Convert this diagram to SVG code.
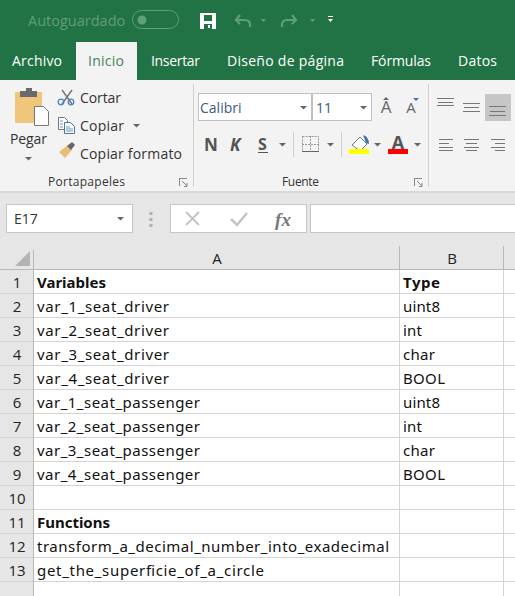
<svg xmlns="http://www.w3.org/2000/svg" width="515" height="596" viewBox="0 0 515 596">
<style>
text{font-family:"Open Sans","Noto Sans","Liberation Sans",sans-serif;fill:#333}
.tab{font-size:14px;fill:#fff}
.rb{font-size:14px;fill:#333}
.grp{font-size:12px;fill:#333}
.cell{font-family:"Noto Sans","Open Sans",sans-serif;font-size:15px;fill:#111}
.b{font-weight:700}
.hd{font-size:15px;fill:#222;text-anchor:middle}
.grid{stroke:#d4d4d4;stroke-width:1}
.hl{stroke:#b8b8b8;stroke-width:1}
.caret{fill:#666}
.ln{stroke:#777;stroke-width:1}
</style>
<defs>
<path id="c" class="caret" d="M0 0h7l-3.500 3.500z"/>
<path id="launch" fill="none" stroke="#888" d="M0 .5h8M.5 0v8M3 3l5 5M8 5v3.500H5"/>
</defs>
<rect width="515" height="596" fill="#fff"/>
<g id="titlebar">
<rect width="515" height="42" fill="#217346"/>
<text x="28" y="26" font-size="14.500" style="fill:#5f9d7c">Autoguardado</text>
<rect x="132.500" y="10.500" width="46" height="18" rx="9" fill="none" stroke="#5f9d7c"/>
<circle cx="142" cy="20" r="4.500" fill="#5f9d7c"/>
<path d="M200 13h16v16h-16z" fill="#fff"/>
<rect x="204" y="15" width="8" height="6" fill="#217346"/>
<rect x="204" y="24" width="8" height="5" fill="#217346"/>
<rect x="208" y="25" width="2" height="3" fill="#fff"/>
<path d="M240 15l-4 5 4 4M237 20h8q5 0 5 5v2" fill="none" stroke="#5f9d7c" stroke-width="2.200"/>
<path d="M292 15l4 5-4 4M295 20h-8q-5 0-5 5v2" fill="none" stroke="#5f9d7c" stroke-width="2.200"/>
<path d="M261 19h5l-2.500 3zM310 19h5l-2.500 3z" fill="#5f9d7c"/>
<path d="M328 16h5v1h-5zM328 19h5l-2.500 3z" fill="#fff"/>
</g>
<g id="tabs">
<rect y="42" width="515" height="38" fill="#217346"/>
<rect x="76" y="42" width="61" height="38" fill="#f3f3f3"/>
<text class="tab" x="12" y="66" textLength="50">Archivo</text>
<text class="tab" x="88" y="66" textLength="36" style="fill:#3f8560">Inicio</text>
<text class="tab" x="151" y="66" textLength="49">Insertar</text>
<text class="tab" x="227" y="66" textLength="117">Diseño de página</text>
<text class="tab" x="371" y="66" textLength="60">Fórmulas</text>
<text class="tab" x="458" y="66" textLength="39">Datos</text>
</g>
<g id="ribbon">
<rect y="80" width="515" height="111" fill="#f3f3f3"/>
<rect y="191" width="515" height="2" fill="#d8d8d8"/>
<path d="M193.500 84v103M428.500 84v103" stroke="#d0d0d0"/>
<rect x="15" y="92" width="27" height="31" fill="#efc67c"/>
<rect x="20" y="91" width="17" height="6" fill="#6a6a6a"/>
<rect x="26" y="88" width="6" height="5" fill="#6a6a6a"/>
<path d="M34.500 106.500h9l5 5v14h-14z" fill="#fff" stroke="#777"/>
<text class="rb" x="10" y="144" textLength="37">Pegar</text>
<use href="#c" x="25" y="157"/>
<path d="M62 90l10 14M72 90l-10 14" stroke="#777" stroke-width="1.500"/>
<circle cx="61" cy="102" r="2.800" fill="none" stroke="#4a86c5" stroke-width="1.300"/>
<circle cx="71" cy="102" r="2.800" fill="none" stroke="#4a86c5" stroke-width="1.300"/>
<text class="rb" x="80" y="103" textLength="41">Cortar</text>
<path d="M58.500 117.500h6l3 3v9h-9z" fill="#fff" stroke="#777"/>
<path d="M64.500 122.500h6l4 4v7h-10z" fill="#fff" stroke="#4a76a5"/>
<path d="M60 121h3M60 124h3M60 127h3M66 127h4M66 129h7M66 131h7" stroke="#4a76a5" stroke-width=".8"/>
<text class="rb" x="80" y="131" textLength="44">Copiar</text>
<use href="#c" x="133" y="124"/>
<path d="M59 152l9-7 4 5-7 8z" fill="#e8bd75"/>
<path d="M67 146l5-4 3 3-4 5z" fill="#666"/>
<text class="rb" x="80" y="159" textLength="102">Copiar formato</text>
<text class="grp" x="48" y="186" textLength="77">Portapapeles</text>
<use href="#launch" x="179" y="178"/>
<rect x="198.500" y="93.500" width="113" height="27" fill="#fff" stroke="#c0c0c0"/>
<rect x="312.500" y="93.500" width="59" height="27" fill="#fff" stroke="#c0c0c0"/>
<text x="200" y="113" font-size="14" style="fill:#3c5a80">Calibri</text>
<text x="316" y="113" font-size="14" style="fill:#3c5a80">11</text>
<use href="#c" x="300" y="106"/>
<use href="#c" x="360" y="106"/>
<text x="386" y="113" font-size="17" style="fill:#666;text-anchor:middle">A</text>
<text x="411" y="113" font-size="15" style="fill:#666;text-anchor:middle">A</text>
<path d="M383 100l3-3 3 3z" fill="#666"/>
<path d="M413 98h6l-3 3z" fill="#3f75b5"/>
<text x="204" y="151" font-size="17" class="b" style="fill:#555">N</text>
<text x="230" y="151" font-size="17" class="b" font-style="italic" style="fill:#555">K</text>
<text x="258" y="150" font-size="16" class="b" style="fill:#555">S</text>
<path d="M258 152.500h10" stroke="#555"/>
<use href="#c" x="279" y="143"/>
<path d="M293.500 132v25M341.500 132v25" stroke="#cfcfcf"/>
<rect x="302.500" y="136.500" width="16" height="15" fill="none" stroke="#999" stroke-dasharray="2 1"/>
<path d="M310.500 136v16M302 144.500h17" stroke="#999" stroke-dasharray="2 1"/>
<path d="M302 151.500h17" stroke="#666"/>
<use href="#c" x="327" y="143"/>
<path d="M352 145l8-8 7 7-7 7z" fill="#fff" stroke="#777"/>
<path d="M363 135q6 2 6 9l-3-1z" fill="#3f75b5"/>
<rect x="349" y="149" width="20" height="5" fill="#ffff00"/>
<use href="#c" x="374" y="143"/>
<text x="398" y="149" font-size="18" class="b" style="fill:#555;text-anchor:middle">A</text>
<rect x="388" y="149" width="20" height="5" fill="#ff0000"/>
<use href="#c" x="414" y="143"/>
<text class="grp" x="282" y="186" textLength="37">Fuente</text>
<use href="#launch" x="414" y="178"/>
<rect x="485" y="94" width="26" height="27" fill="#c6c6c6"/>
<path class="ln" d="M437 98.500h17M438 102.500h15M437 105.500h17"/>
<path class="ln" d="M463 103.500h17M464 107.500h15M463 111.500h17"/>
<path class="ln" d="M489 106.500h17M490 111.500h15M489 115.500h17"/>
<path class="ln" d="M439 139.500h14M439 143.500h10M439 147.500h14M439 150.500h14"/>
<path class="ln" d="M464 139.500h15M466 143.500h11M464 147.500h15M466 150.500h11"/>
<path class="ln" d="M491 139.500h14M495 143.500h10M491 147.500h14M495 150.500h10"/>
</g>
<g id="formulabar">
<rect y="193" width="515" height="53" fill="#e6e6e6"/>
<rect x="6.500" y="204.500" width="126" height="28" fill="#fff" stroke="#c6c6c6"/>
<text x="14" y="224" font-size="14" style="fill:#333">E17</text>
<use href="#c" x="117" y="217"/>
<path d="M151 212v3M151 218v3M151 224v3" stroke="#b0b0b0" stroke-width="3"/>
<rect x="170.500" y="204.500" width="136" height="28" fill="#fff" stroke="#c6c6c6"/>
<rect x="310.500" y="204.500" width="205" height="28" fill="#fff" stroke="#c6c6c6"/>
<path d="M186 212l13 13M199 212l-13 13" stroke="#c4c4c4" stroke-width="1.800"/>
<path d="M231 219l6 6 10-12" fill="none" stroke="#c4c4c4" stroke-width="2.500"/>
<text x="283" y="226" font-size="19" font-style="italic" class="b" style="font-family:'Liberation Serif',serif;fill:#777;text-anchor:middle">fx</text>
</g>
<g id="sheet">
<rect x="0" y="246" width="515" height="24" fill="#e6e6e6"/>
<rect x="0" y="270" width="33.500" height="326" fill="#e6e6e6"/>
<path d="M30 251v15h-15z" fill="#b4b4b4"/>
<path class="hl" d="M33.500 250v346M399.500 246v24M503.500 246v24M0 269.500h515"/>
<g class="grid">
<path d="M399.500 270v326M503.500 270v326"/>
<path d="M34 293.500h481M34 317.500h481M34 341.500h481M34 365.500h481M34 389.500h481M34 413.500h481M34 437.500h481M34 461.500h481M34 485.500h481M34 509.500h481M34 533.500h481M34 557.500h481M34 581.500h481"/>
<path d="M0 293.500h33M0 317.500h33M0 341.500h33M0 365.500h33M0 389.500h33M0 413.500h33M0 437.500h33M0 461.500h33M0 485.500h33M0 509.500h33M0 533.500h33M0 557.500h33M0 581.500h33"/>
</g>
<text class="hd" x="217" y="264">A</text>
<text class="hd" x="452" y="264">B</text>
<g style="font-size:15px">
<text class="hd" x="17" y="288">1</text><text class="hd" x="17" y="312">2</text><text class="hd" x="17" y="336">3</text><text class="hd" x="17" y="360">4</text><text class="hd" x="17" y="384">5</text><text class="hd" x="17" y="408">6</text><text class="hd" x="17" y="432">7</text><text class="hd" x="17" y="456">8</text><text class="hd" x="17" y="480">9</text><text class="hd" x="17" y="504">10</text><text class="hd" x="17" y="528">11</text><text class="hd" x="17" y="552">12</text><text class="hd" x="17" y="576">13</text>
</g>
<text class="cell b" x="37" y="288" textLength="69">Variables</text><text class="cell b" x="403" y="288" textLength="37">Type</text>
<text class="cell" x="37" y="312" textLength="132">var_1_seat_driver</text><text class="cell" x="403" y="312" textLength="37">uint8</text>
<text class="cell" x="37" y="336" textLength="132">var_2_seat_driver</text><text class="cell" x="403" y="336" textLength="19">int</text>
<text class="cell" x="37" y="360" textLength="132">var_3_seat_driver</text><text class="cell" x="403" y="360" textLength="32">char</text>
<text class="cell" x="37" y="384" textLength="132">var_4_seat_driver</text><text class="cell" x="403" y="384" textLength="42">BOOL</text>
<text class="cell" x="37" y="408" textLength="163">var_1_seat_passenger</text><text class="cell" x="403" y="408" textLength="37">uint8</text>
<text class="cell" x="37" y="432" textLength="163">var_2_seat_passenger</text><text class="cell" x="403" y="432" textLength="19">int</text>
<text class="cell" x="37" y="456" textLength="163">var_3_seat_passenger</text><text class="cell" x="403" y="456" textLength="32">char</text>
<text class="cell" x="37" y="480" textLength="163">var_4_seat_passenger</text><text class="cell" x="403" y="480" textLength="42">BOOL</text>
<text class="cell b" x="37" y="528" textLength="73">Functions</text>
<text class="cell" x="37" y="552" textLength="352">transform_a_decimal_number_into_exadecimal</text>
<text class="cell" x="37" y="576" textLength="227">get_the_superficie_of_a_circle</text>
</g>
</svg>
